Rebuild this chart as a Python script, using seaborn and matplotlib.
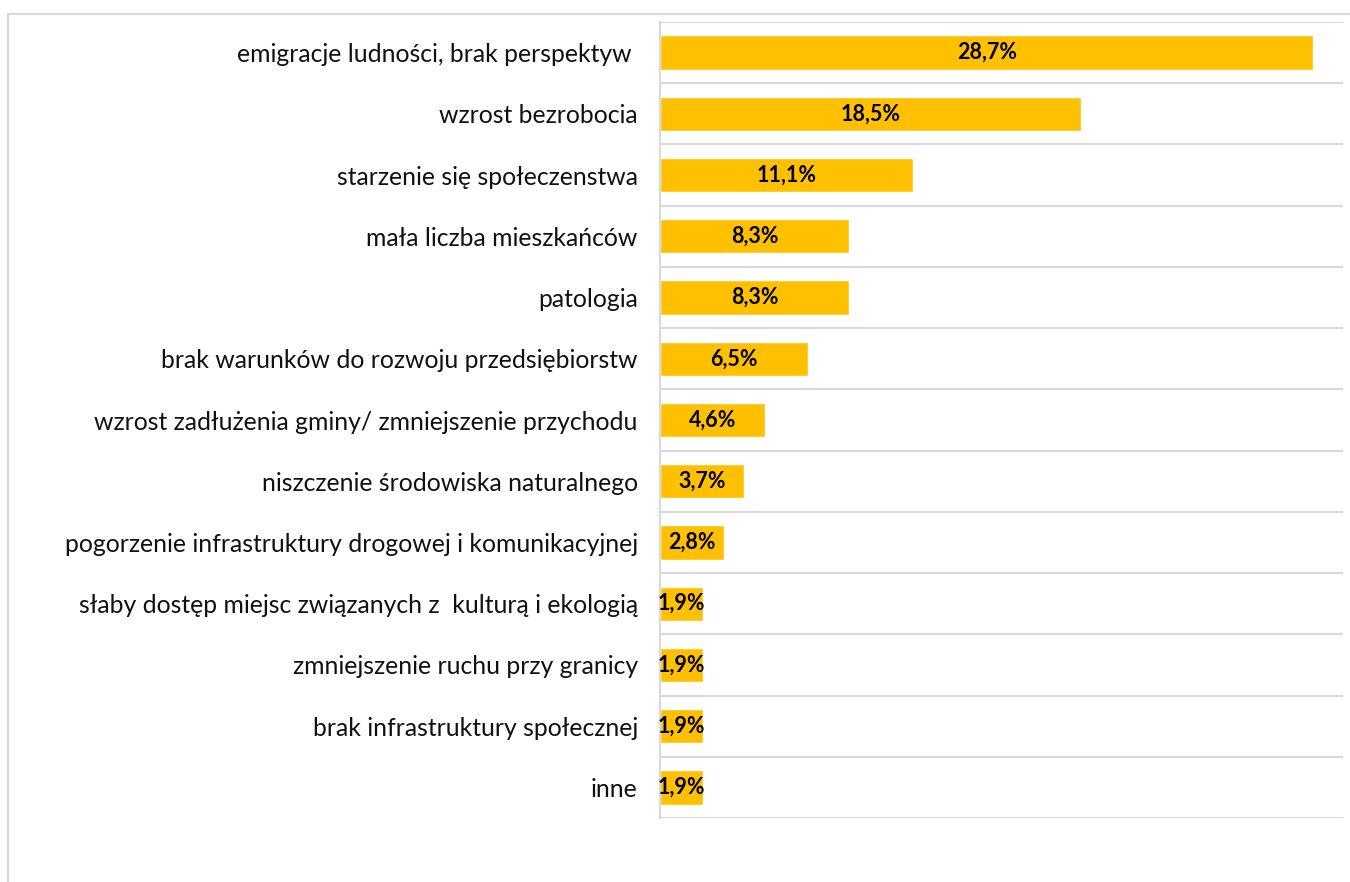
import matplotlib
matplotlib.use("Agg")
import matplotlib.pyplot as plt
import seaborn as sns
import pandas as pd
from matplotlib.patches import Rectangle

# dane z wykresu
kategorie = [
    "emigracje ludności, brak perspektyw ",
    "wzrost bezrobocia",
    "starzenie się społeczenstwa",
    "mała liczba mieszkańców",
    "patologia",
    "brak warunków do rozwoju przedsiębiorstw",
    "wzrost zadłużenia gminy/ zmniejszenie przychodu",
    "niszczenie środowiska naturalnego",
    "pogorzenie infrastruktury drogowej i komunikacyjnej",
    "słaby dostęp miejsc związanych z  kulturą i ekologią",
    "zmniejszenie ruchu przy granicy",
    "brak infrastruktury społecznej",
    "inne",
]
wartosci = [28.7, 18.5, 11.1, 8.3, 8.3, 6.5, 4.6, 3.7, 2.8, 1.9, 1.9, 1.9, 1.9]

df = pd.DataFrame({"kategoria": kategorie, "wartosc": wartosci})

sns.set_style("white")
plt.rcParams["font.family"] = ["Lato", "DejaVu Sans"]

fig = plt.figure(figsize=(13.5, 8.82), dpi=100)
ax = fig.add_axes([660 / 1350, 1 - 818 / 882, 683 / 1350, 796 / 882])

sns.barplot(data=df, x="wartosc", y="kategoria", orient="h", color="#FFC000",
            saturation=1, width=0.56, ax=ax)

ax.set_xlim(0, 30)
ax.set_ylim(len(kategorie) - 0.5, -0.5)

# linie siatki między kategoriami
for i in range(len(kategorie) + 1):
    ax.axhline(i - 0.5, color="#d9d9d9", lw=1.5, zorder=0)

# etykiety wartości
for i, v in enumerate(wartosci):
    ax.text(v / 2, i, f"{v:.1f}%".replace(".", ","), ha="center", va="center",
            fontsize=15.5, fontweight="bold", color="black")

ax.set_xlabel("")
ax.set_ylabel("")
ax.set_xticks([])
ax.tick_params(axis="y", length=0, pad=16, labelsize=17.8, labelcolor="#111111")
for s in ["top", "right", "bottom"]:
    ax.spines[s].set_visible(False)
ax.spines["left"].set_color("#d9d9d9")
ax.spines["left"].set_linewidth(1.5)

# ramka wokół wykresu
fig.patches.append(Rectangle((8 / 1350, -0.1), 1.2, 1 - 14 / 882 + 0.1,
                             transform=fig.transFigure, fill=False,
                             edgecolor="#d9d9d9", lw=1.5))

fig.savefig("out.png", dpi=100)
